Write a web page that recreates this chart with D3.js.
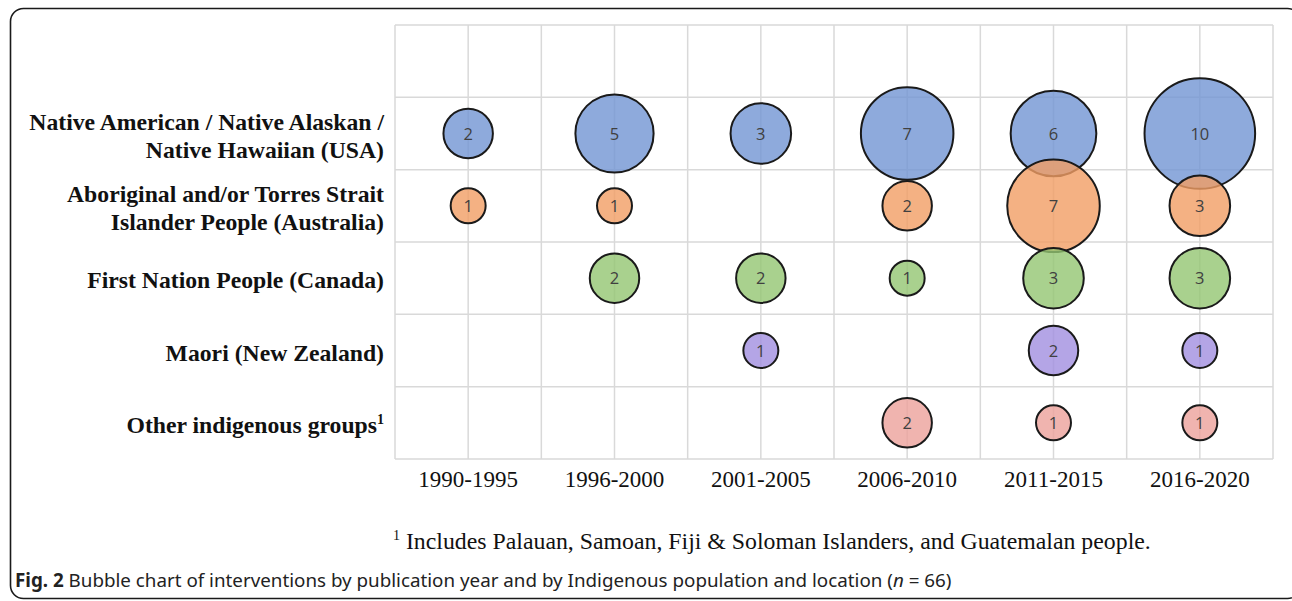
<!DOCTYPE html>
<html>
<head>
<meta charset="utf-8">
<script src="https://cdn.jsdelivr.net/npm/d3@7"></script>
<style>
	body { margin: 0; background: #fff; }
	svg { display: block; }
	.grid line { stroke: #d9d9d9; stroke-width: 1.5; }
	.label { font-family: 'Liberation Serif', 'Times New Roman', serif; font-weight: bold; font-size: 23.7px; fill: #111; }
	.tick-label { font-family: 'Liberation Serif', 'Times New Roman', serif; font-size: 23px; fill: #111; }
	.count { font-family: 'Open Sans', 'Noto Sans', sans-serif; font-size: 16.5px; fill: #404040; }
	.note { font-family: 'Liberation Serif', 'Times New Roman', serif; font-size: 23.8px; fill: #111; }
	.caption { font-family: 'Noto Sans', 'Open Sans', sans-serif; font-size: 18.8px; fill: #222; }
</style>
</head>
<body>
<svg id="chart"></svg>
<script>
/* global d3 */

const periods = ['1990-1995', '1996-2000', '2001-2005', '2006-2010', '2011-2015', '2016-2020'];

const groups = [
	['Native American / Native Alaskan /', 'Native Hawaiian (USA)'],
	['Aboriginal and/or Torres Strait', 'Islander People (Australia)'],
	['First Nation People (Canada)'],
	['Maori (New Zealand)'],
	['Other indigenous groups']
];

// counts per period, null = no bubble
const usa = [2, 5, 3, 7, 6, 10];
const australia = [1, 1, null, 2, 7, 3];
const canada = [null, 2, 2, 1, 3, 3];
const maori = [null, null, 1, null, 2, 1];
const other = [null, null, null, 2, 1, 1];

const colors = ['#7295d3', '#f19e64', '#93c572', '#a18ee0', '#eca19b'];

const W = 1292;
const H = 601;
const PLOT = { left: 395, right: 1273, top: 25, bottom: 459 };

const $svg = d3.select('#chart').attr('width', W).attr('height', H);

// outer frame
$svg.append('rect')
	.attr('x', 10.5)
	.attr('y', 8.5)
	.attr('width', 1290)
	.attr('height', 590)
	.attr('rx', 13)
	.attr('fill', 'none')
	.attr('stroke', '#1a1a1a')
	.attr('stroke-width', 1.6);

// x: two units per period, bubbles at odd values
const x = d3.scaleLinear().domain([0, periods.length * 2]).range([PLOT.left, PLOT.right]);
// y: one unit per group plus an empty row on top
const y = d3.scaleLinear().domain([0, groups.length + 1]).range([PLOT.bottom, PLOT.top]);
const r = d3.scaleSqrt().domain([0, 10]).range([0, 55.3]);

const xPos = i => x(i * 2 + 1);
const yPos = i => y(groups.length - i - 0.5);

const $grid = $svg.append('g').attr('class', 'grid');

$grid.selectAll('.v')
	.data(d3.range(0, periods.length * 2 + 1))
	.join('line')
	.attr('x1', d => x(d))
	.attr('x2', d => x(d))
	.attr('y1', PLOT.top)
	.attr('y2', PLOT.bottom);

$grid.selectAll('.h')
	.data(d3.range(0, groups.length + 2))
	.join('line')
	.attr('x1', PLOT.left)
	.attr('x2', PLOT.right)
	.attr('y1', d => y(d))
	.attr('y2', d => y(d));

// category labels
const $labels = $svg.append('g');
groups.forEach((lines, i) => {
	const $t = $labels.append('text')
		.attr('class', 'label')
		.attr('text-anchor', 'end')
		.attr('x', 384)
		.attr('y', yPos(i) + 10 - (lines.length - 1) * 14);
	lines.forEach((line, j) => {
		$t.append('tspan')
			.attr('x', 384)
			.attr('dy', j === 0 ? 0 : 28)
			.text(line);
	});
	if (i === groups.length - 1) {
		$t.append('tspan')
			.attr('font-size', 14)
			.attr('dy', -9)
			.text('1');
	}
});

// period labels
$svg.append('g')
	.selectAll('text')
	.data(periods)
	.join('text')
	.attr('class', 'tick-label')
	.attr('text-anchor', 'middle')
	.attr('x', (d, i) => xPos(i))
	.attr('y', 487)
	.text(d => d);

// bubbles, drawn series by series so later series sit on top
const series = [usa, australia, canada, maori, other];
const bubbles = [];
series.forEach((values, gi) => {
	values.forEach((v, pi) => {
		if (v != null) bubbles.push({ group: gi, period: pi, value: v });
	});
});

const $bubbles = $svg.append('g');

$bubbles.selectAll('circle')
	.data(bubbles)
	.join('circle')
	.attr('cx', d => xPos(d.period))
	.attr('cy', d => yPos(d.group))
	.attr('r', d => r(d.value))
	.attr('fill', d => colors[d.group])
	.attr('fill-opacity', 0.8)
	.attr('stroke', '#1a1a1a')
	.attr('stroke-width', 2);

$bubbles.selectAll('text')
	.data(bubbles)
	.join('text')
	.attr('class', 'count')
	.attr('text-anchor', 'middle')
	.attr('x', d => xPos(d.period))
	.attr('y', d => yPos(d.group) + 6)
	.text(d => d.value);

// footnote
const $note = $svg.append('text')
	.attr('class', 'note')
	.attr('x', 393)
	.attr('y', 549);
$note.append('tspan').attr('font-size', 14).attr('dy', -9).text('1');
$note.append('tspan').attr('dy', 9).text(' Includes Palauan, Samoan, Fiji & Soloman Islanders, and Guatemalan people.');

// caption
const $cap = $svg.append('text')
	.attr('class', 'caption')
	.attr('x', 15)
	.attr('y', 587);
$cap.append('tspan').attr('font-weight', 'bold').text('Fig. 2');
$cap.append('tspan').text(' Bubble chart of interventions by publication year and by Indigenous population and location (');
$cap.append('tspan').attr('font-style', 'italic').text('n');
$cap.append('tspan').text(' = 66)');
</script>
</body>
</html>
